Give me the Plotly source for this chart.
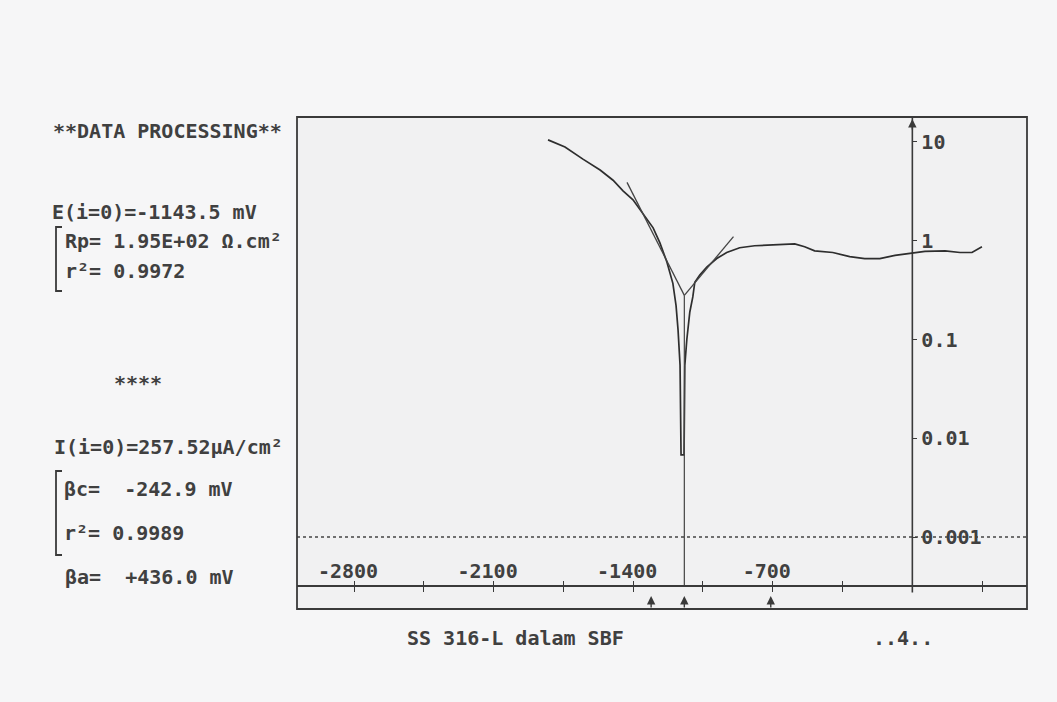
import math
import plotly.graph_objects as go

# ---------------- data ----------------
# potential (mV) and current density (mA/cm2) of the polarisation curve
E_cathodic = [-1827, -1742, -1652, -1566, -1501, -1451, -1401, -1351, -1300,
              -1266, -1231, -1201, -1185, -1175, -1165, -1160]
I_cathodic = [10.5, 8.9, 6.7, 5.2, 4.1, 3.2, 2.6, 1.9, 1.35,
              0.95, 0.61, 0.37, 0.22, 0.125, 0.055, 0.0068]
E_anodic = [-1145, -1141, -1131, -1116, -1101, -1091, -1066, -1031, -981, -931,
            -866, -791, -716, -641, -590, -540, -490, -399, -314, -239,
            -163, -87, -12, 63, 164, 239, 299, 349]
I_anodic = [0.0068, 0.055, 0.10, 0.19, 0.27, 0.38, 0.45, 0.54, 0.66, 0.76,
            0.85, 0.89, 0.91, 0.93, 0.93, 0.87, 0.79, 0.76, 0.69, 0.66,
            0.66, 0.71, 0.74, 0.78, 0.79, 0.76, 0.76, 0.87]

# Tafel fit lines
E_corr = -1143.5
I_corr = 0.28
tafel_c_E = [-1431, E_corr]
tafel_c_I = [3.9, I_corr]
tafel_a_E = [E_corr, -897]
tafel_a_I = [I_corr, 1.1]

# fit-range markers below the axis
marker_E = [-1310, -1143.5, -710]

# axes
x_range = [-3086, 575]
y_log_range = [-3.729, 1.253]
x_axis_level = 3.2e-4          # current level where the potential axis is drawn
y_axis_low = 2.75e-4           # the current axis stops just below the potential axis
ref_level = 0.001               # dotted reference line
x_tickvals = [-2800, -2450, -2100, -1750, -1400, -1050, -700, -350, 0, 350]
x_ticktext = ["-2800", "", "-2100", "", "-1400", "", "-700", "", "", ""]
y_tickvals = [0.001, 0.01, 0.1, 1, 10]
y_ticktext = ["0.001", "0.01", "0.1", "1", "10"]

# left-hand report text
report_lines = [
    ("**DATA PROCESSING**", 51, 131),
    ("E(i=0)=-1143.5 mV", 50, 212),
    ("Rp= 1.95E+02 Ω.cm²", 63, 241),
    ("r²= 0.9972", 63, 271),
    ("****", 112, 383),
    ("I(i=0)=257.52μA/cm²", 52, 447),
    ("βc=  -242.9 mV", 62, 489),
    ("r²= 0.9989", 62, 533),
    ("βa=  +436.0 mV", 63, 577),
]
caption = "SS 316-L dalam SBF"
page_no = "..4.."

# ---------------- layout geometry ----------------
W, H = 1057, 702
L, R, T, B = 297, 1027, 117, 609
FONT = "DejaVu Sans Mono"
INK = "#3a3a3a"
TXT = dict(family=FONT, size=20, color="#404040", weight="bold")


def fx(px):
    return (px - L) / (R - L)


def fy(py):
    return (B - py) / (B - T)


axis_pos = (math.log10(x_axis_level) - y_log_range[0]) / (y_log_range[1] - y_log_range[0])
y_axis_pos = (0 - x_range[0]) / (x_range[1] - x_range[0])

fig = go.Figure()

# current axis line (stops just below the potential axis)
fig.add_trace(go.Scatter(x=[0, 0], y=[y_axis_low, 10 ** y_log_range[1]], mode="lines",
                         line=dict(color=INK, width=1.6), hoverinfo="skip"))
# polarisation curve
fig.add_trace(go.Scatter(x=E_cathodic + E_anodic, y=I_cathodic + I_anodic,
                         mode="lines", line=dict(color="#2e2e2e", width=1.7),
                         hoverinfo="skip"))
# Tafel lines
fig.add_trace(go.Scatter(x=tafel_c_E, y=tafel_c_I, mode="lines",
                         line=dict(color="#444444", width=1.3), hoverinfo="skip"))
fig.add_trace(go.Scatter(x=tafel_a_E, y=tafel_a_I, mode="lines",
                         line=dict(color="#444444", width=1.3), hoverinfo="skip"))
# Ecorr vertical line
fig.add_trace(go.Scatter(x=[E_corr, E_corr], y=[I_corr, x_axis_level], mode="lines",
                         line=dict(color="#444444", width=1.2), hoverinfo="skip",
                         xaxis="x2"))
# dotted reference line
fig.add_trace(go.Scatter(x=x_range, y=[ref_level, ref_level], mode="lines",
                         line=dict(color="#444444", width=1.4, dash="dot"),
                         hoverinfo="skip"))

annotations = []
for text, px, py in report_lines:
    annotations.append(dict(text=text, xref="paper", yref="paper", x=fx(px), y=fy(py),
                            xanchor="left", yanchor="middle", showarrow=False,
                            font=TXT))
annotations.append(dict(text=caption, xref="paper", yref="paper", x=fx(515), y=fy(638),
                        xanchor="center", yanchor="middle", showarrow=False, font=TXT))
annotations.append(dict(text=page_no, xref="paper", yref="paper", x=fx(903), y=fy(638),
                        xanchor="center", yanchor="middle", showarrow=False, font=TXT))
# fit markers (small upward arrows under the axis)
for e in marker_E:
    annotations.append(dict(x=e, xref="x", y=fy(596), yref="paper", ax=0, ay=13,
                            showarrow=True, arrowhead=2, arrowsize=1.2, arrowwidth=1.4,
                            arrowcolor=INK, text=""))
# arrow tip on the current axis
annotations.append(dict(x=0, xref="x", y=fy(119), yref="paper", ax=0, ay=12,
                        showarrow=True, arrowhead=2, arrowsize=1.2, arrowwidth=1.4,
                        arrowcolor=INK, text=""))

shapes = [dict(type="rect", xref="paper", yref="paper", x0=0, y0=0, x1=1, y1=1,
               line=dict(color=INK, width=1.8))]
# report brackets
for top, bot in [(227, 291), (471, 555)]:
    shapes.append(dict(type="path", xref="paper", yref="paper",
                       path=f"M {fx(62)} {fy(top)} L {fx(56)} {fy(top)} "
                            f"L {fx(56)} {fy(bot)} L {fx(62)} {fy(bot)}",
                       line=dict(color=INK, width=1.8)))

fig.update_layout(
    width=W, height=H,
    margin=dict(l=L, r=W - R, t=T, b=H - B, pad=0),
    paper_bgcolor="#f6f6f7",
    plot_bgcolor="#f1f1f2",
    showlegend=False,
    font=TXT,
    annotations=annotations,
    shapes=shapes,
    xaxis=dict(range=x_range, anchor="free", position=axis_pos, side="top",
               showline=True, linecolor=INK, linewidth=1.6,
               ticks="outside", ticklen=4, tickwidth=1.3, tickcolor=INK,
               tickvals=x_tickvals, ticktext=x_ticktext,
               ticklabelstandoff=-5, ticklabelshift=-6,
               showgrid=False, zeroline=False, tickfont=TXT),
    xaxis2=dict(range=x_range, matches="x", overlaying="x", anchor="free",
                position=axis_pos, side="bottom", showline=False,
                ticks="outside", ticklen=5, tickwidth=1.3, tickcolor=INK,
                tickvals=x_tickvals, showticklabels=False,
                showgrid=False, zeroline=False),
    yaxis=dict(type="log", range=y_log_range, anchor="free", position=y_axis_pos,
               side="right", showline=False,
               ticks="outside", ticklen=4, tickwidth=1.3, tickcolor=INK,
               tickvals=y_tickvals, ticktext=y_ticktext,
               showgrid=False, zeroline=False, tickfont=TXT),
)

fig.write_html("out.html")
